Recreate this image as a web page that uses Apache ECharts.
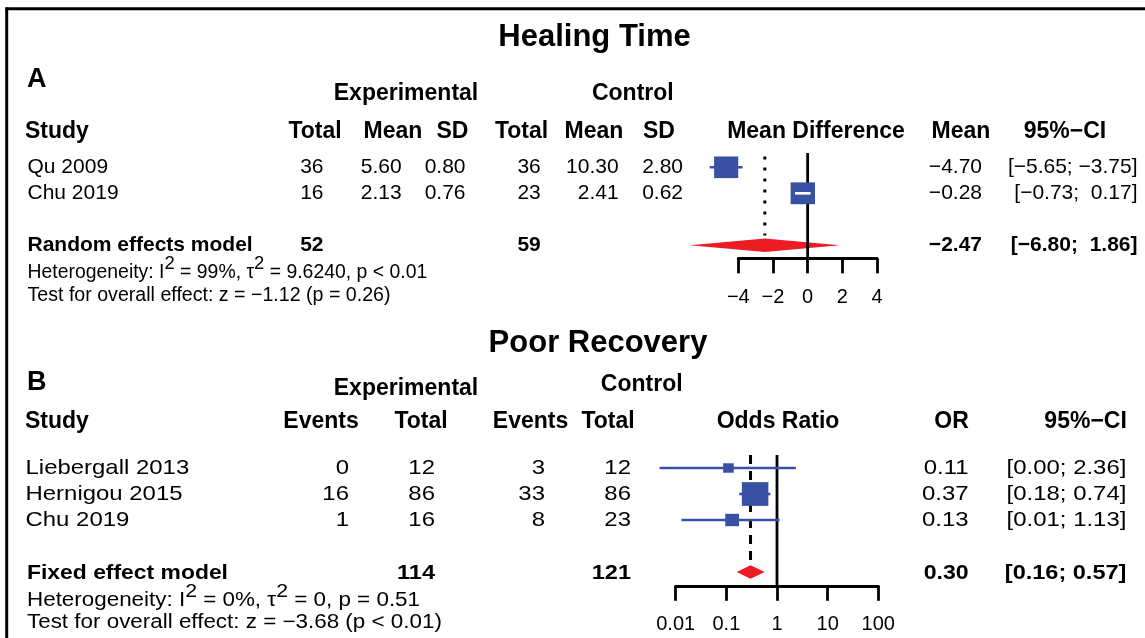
<!DOCTYPE html>
<html>
<head>
<meta charset="utf-8">
<title>Healing Time / Poor Recovery</title>
<script src="https://cdn.jsdelivr.net/npm/echarts@6/dist/echarts.min.js"></script>
<style>
  html, body { margin: 0; padding: 0; background: #fff; }
  #chart { width: 1145px; height: 638px; }
</style>
</head>
<body>
<div id="chart"></div>
<script>
// panel A - healing time (mean difference, random effects)
const studiesA = ['Qu 2009', 'Chu 2019'];
const expTotalA = [36, 16];
const expMeanA = [5.60, 2.13];
const expSdA = [0.80, 0.76];
const ctrlTotalA = [36, 23];
const ctrlMeanA = [10.30, 2.41];
const ctrlSdA = [2.80, 0.62];
const mdA = [-4.70, -0.28];
const mdLoA = [-5.65, -0.73];
const mdHiA = [-3.75, 0.17];
const weightA = [49.5, 50.5];
const pooledA = [-2.47, -6.80, 1.86]; // est, lo, hi
const totalsA = [52, 59];
const ticksA = [-4, -2, 0, 2, 4];

// panel B - poor recovery (odds ratio, fixed effect)
const studiesB = ['Liebergall 2013', 'Hernigou 2015', 'Chu 2019'];
const expEventsB = [0, 16, 1];
const expTotalB = [12, 86, 16];
const ctrlEventsB = [3, 33, 8];
const ctrlTotalB = [12, 86, 23];
const orB = [0.11, 0.37, 0.13];
const orLoB = [0.0048, 0.18, 0.013];
const orHiB = [2.36, 0.74, 1.13];
const weightB = [11.2, 69.9, 18.9];
const pooledB = [0.30, 0.16, 0.57];
const totalsB = [114, 121];

const BLUE = '#3a51a3';
const RED = '#ed1c24';
const FONT = '"Liberation Sans", Arial, Helvetica, sans-serif';
const MINUS = '\u2212';

function fmt(v, d) {
  return (v < 0 ? MINUS : '') + Math.abs(v).toFixed(d);
}
// R pads the CI bounds to a common width when some are negative
function ci(lo, hi, w) {
  return '[' + fmt(lo, 2).padStart(w, ' ') + '; ' + fmt(hi, 2).padStart(w, ' ') + ']';
}
function ciWidth(arrs) {
  let w = 0;
  arrs.forEach(function (a) { a.forEach(function (v) { w = Math.max(w, fmt(v, 2).length); }); });
  return w;
}
const wA = ciWidth([mdLoA, mdHiA, [pooledA[1], pooledA[2]]]);
const wB = ciWidth([orLoB, orHiB, [pooledB[1], pooledB[2]]]);

const g = [];
function txt(x, y, text, opt) {
  opt = opt || {};
  g.push({
    type: 'text', x: x, y: y, silent: true, scaleX: opt.sx || 1,
    style: {
      text: text, fill: '#000', fontFamily: FONT,
      fontSize: opt.size || 20, fontWeight: opt.bold ? 'bold' : 'normal',
      align: opt.align || 'left', verticalAlign: 'middle',
      rich: opt.rich
    }
  });
}
const supRich = { s: { fontSize: 19, fontFamily: FONT, padding: [0, 0, 16, 0] } };

// frame
g.push({ type: 'line', shape: { x1: 5.5, y1: 8.7, x2: 1145, y2: 8.7 }, style: { stroke: '#000', lineWidth: 3 } });
g.push({ type: 'line', shape: { x1: 6.7, y1: 7.5, x2: 6.7, y2: 638 }, style: { stroke: '#000', lineWidth: 3 } });

// ---- panel A text
txt(594.5, 37.5, 'Healing Time', { size: 31, bold: true, align: 'center' });
txt(27, 80, 'A', { size: 27, bold: true });
txt(406, 93.3, 'Experimental', { size: 23, bold: true, align: 'center' });
txt(632.8, 93.3, 'Control', { size: 23, bold: true, align: 'center' });
txt(25, 132, 'Study', { size: 23, bold: true });
[['Total', 315], ['Mean', 393], ['SD', 452.5], ['Total', 521.5], ['Mean', 594], ['SD', 659],
 ['Mean Difference', 816], ['Mean', 961], ['95%\u2212CI', 1065]].forEach(function (h) {
  txt(h[1], 132, h[0], { size: 23, bold: true, align: 'center' });
});
const rowYA = [167.3, 193.3];
studiesA.forEach(function (s, i) {
  const y = rowYA[i];
  txt(27.5, y, s, { size: 21 });
  txt(323.5, y, String(expTotalA[i]), { size: 21, align: 'right' });
  txt(401.7, y, fmt(expMeanA[i], 2), { size: 21, align: 'right' });
  txt(465.5, y, fmt(expSdA[i], 2), { size: 21, align: 'right' });
  txt(540.8, y, String(ctrlTotalA[i]), { size: 21, align: 'right' });
  txt(618.6, y, fmt(ctrlMeanA[i], 2), { size: 21, align: 'right' });
  txt(683, y, fmt(ctrlSdA[i], 2), { size: 21, align: 'right' });
  txt(982, y, fmt(mdA[i], 2), { size: 21, align: 'right' });
  txt(1137.5, y, ci(mdLoA[i], mdHiA[i], wA), { size: 21, align: 'right' });
});
txt(27.5, 245.3, 'Random effects model', { size: 21, bold: true });
txt(323.5, 245.3, String(totalsA[0]), { size: 21, bold: true, align: 'right' });
txt(540.8, 245.3, String(totalsA[1]), { size: 21, bold: true, align: 'right' });
txt(982, 245.3, fmt(pooledA[0], 2), { size: 21, bold: true, align: 'right' });
txt(1137.5, 245.3, ci(pooledA[1], pooledA[2], wA), { size: 21, bold: true, align: 'right' });
txt(27.5, 272, 'Heterogeneity: I{s|2} = 99%, \u03c4{s|2} = 9.6240, p < 0.01', { size: 20, rich: supRich, sx: 0.97 });
txt(27.5, 295.5, 'Test for overall effect: z = ' + MINUS + '1.12 (p = 0.26)', { size: 20, sx: 0.98 });

// ---- panel B text (rows in this panel are set a little wider)
const SXB = 1.14;
txt(598, 343, 'Poor Recovery', { size: 31, bold: true, align: 'center' });
txt(27, 383, 'B', { size: 27, bold: true });
txt(406, 389, 'Experimental', { size: 23, bold: true, align: 'center' });
txt(641.7, 385, 'Control', { size: 23, bold: true, align: 'center' });
txt(25, 421.7, 'Study', { size: 23, bold: true });
[['Events', 321], ['Total', 421], ['Events', 530.5], ['Total', 608], ['Odds Ratio', 778],
 ['OR', 951.6], ['95%\u2212CI', 1085.6]].forEach(function (h) {
  txt(h[1], 421.7, h[0], { size: 23, bold: true, align: 'center' });
});
const rowYB = [468.3, 494.5, 520.7];
studiesB.forEach(function (s, i) {
  const y = rowYB[i];
  txt(25.5, y, s, { size: 21, sx: SXB });
  txt(349, y, String(expEventsB[i]), { size: 21, align: 'right', sx: SXB });
  txt(435, y, String(expTotalB[i]), { size: 21, align: 'right', sx: SXB });
  txt(545, y, String(ctrlEventsB[i]), { size: 21, align: 'right', sx: SXB });
  txt(631, y, String(ctrlTotalB[i]), { size: 21, align: 'right', sx: SXB });
  txt(968.6, y, fmt(orB[i], 2), { size: 21, align: 'right', sx: SXB });
  txt(1126.4, y, ci(orLoB[i], orHiB[i], wB), { size: 21, align: 'right', sx: SXB });
});
txt(27, 573.3, 'Fixed effect model', { size: 21, bold: true, sx: 1.09 });
txt(435, 573.3, String(totalsB[0]), { size: 21, bold: true, align: 'right', sx: 1.12 });
txt(631, 573.3, String(totalsB[1]), { size: 21, bold: true, align: 'right', sx: 1.12 });
txt(968.6, 573.3, fmt(pooledB[0], 2), { size: 21, bold: true, align: 'right', sx: 1.1 });
txt(1126.4, 573.3, ci(pooledB[1], pooledB[2], wB), { size: 21, bold: true, align: 'right', sx: 1.12 });
txt(27, 600, 'Heterogeneity: I{s|2} = 0%, \u03c4{s|2} = 0, p = 0.51', { size: 20, rich: supRich, sx: 1.12 });
txt(27, 622.5, 'Test for overall effect: z = ' + MINUS + '3.68 (p < 0.01)', { size: 20, sx: 1.12 });

// ---- marks
function studyItem(boxMax, wMax) {
  return function (params, api) {
    const row = api.value(3);
    const c = api.coord([api.value(0), row]);
    const l = api.coord([api.value(1), row]);
    const h = api.coord([api.value(2), row]);
    const s = boxMax * Math.sqrt(api.value(4) / wMax);
    const bw = s * 1.06, bh = s * 0.95;
    const inside = l[0] >= c[0] - bw / 2 && h[0] <= c[0] + bw / 2;
    const line = { type: 'line', shape: { x1: l[0], y1: c[1], x2: h[0], y2: c[1] },
      style: { stroke: inside ? '#fff' : BLUE, lineWidth: 2.6 } };
    const rect = { type: 'rect', shape: { x: c[0] - bw / 2, y: c[1] - bh / 2, width: bw, height: bh },
      style: { fill: BLUE } };
    return { type: 'group', children: inside ? [rect, line] : [line, rect] };
  };
}
function diamondItem(params, api) {
  const row = api.value(3);
  const c = api.coord([api.value(0), row]);
  const l = api.coord([api.value(1), row]);
  const h = api.coord([api.value(2), row]);
  return { type: 'polygon', shape: { points: [[l[0], c[1]], [c[0], c[1] - 6.8], [h[0], c[1]], [c[0], c[1] + 6.8]] },
    style: { fill: RED } };
}
function refItem(params, api) {
  const a = api.coord([api.value(0), api.value(1)]);
  const b = api.coord([api.value(0), api.value(2)]);
  const kind = api.value(3);
  const dash = kind === 1 ? [3, 8] : kind === 2 ? [9, 7] : null;
  return { type: 'line', shape: { x1: a[0], y1: a[1], x2: b[0], y2: b[1] },
    style: { stroke: '#000', lineWidth: kind === 0 ? 2.8 : 3, lineDash: dash } };
}

const dataA = mdA.map(function (v, i) { return [v, mdLoA[i], mdHiA[i], i, weightA[i]]; });
const dataB = orB.map(function (v, i) { return [v, orLoB[i], orHiB[i], i, weightB[i]]; });

function axisX(idx, extra) {
  return Object.assign({
    gridIndex: idx,
    axisLine: { show: true, onZero: false, lineStyle: { color: '#000', width: 2.8 } },
    axisTick: { show: true, inside: false, length: 15, lineStyle: { color: '#000', width: 2.8 } },
    splitLine: { show: false }
  }, extra);
}

const option = {
  animation: false,
  backgroundColor: '#fff',
  grid: [
    { left: 738.3, right: 268, top: 153, height: 105.3, outerBoundsMode: 'none', containLabel: false },
    { left: 675.7, right: 266.7, top: 455, height: 130.8, outerBoundsMode: 'none', containLabel: false }
  ],
  xAxis: [
    axisX(0, { type: 'value', min: ticksA[0], max: ticksA[ticksA.length - 1], interval: 2,
      axisLabel: { color: '#000', fontSize: 20, fontFamily: FONT, margin: 29,
        formatter: function (v) { return fmt(v, 0); } } }),
    axisX(1, { type: 'log', logBase: 10, min: 0.01, max: 100,
      axisLabel: { color: '#000', fontSize: 20, fontFamily: FONT, margin: 29,
        formatter: function (v) { return String(+Number(v).toPrecision(2)); } } })
  ],
  yAxis: [
    { gridIndex: 0, type: 'value', inverse: true, min: -0.55, max: 3.5, show: false },
    { gridIndex: 1, type: 'value', inverse: true, min: -0.5, max: 4.53, show: false }
  ],
  series: [
    { type: 'custom', name: 'pooled A', xAxisIndex: 0, yAxisIndex: 0, z: 1, clip: false,
      renderItem: diamondItem, data: [[pooledA[0], pooledA[1], pooledA[2], 3]] },
    { type: 'custom', name: 'ref A', xAxisIndex: 0, yAxisIndex: 0, z: 2, clip: false,
      renderItem: refItem, data: [[0, -0.55, 3.5, 0], [pooledA[0], -0.42, 2.62, 1]] },
    { type: 'custom', name: 'studies A', xAxisIndex: 0, yAxisIndex: 0, z: 3, clip: false,
      renderItem: studyItem(23, Math.max.apply(null, weightA)), data: dataA },
    { type: 'custom', name: 'pooled B', xAxisIndex: 1, yAxisIndex: 1, z: 1, clip: false,
      renderItem: diamondItem, data: [[pooledB[0], pooledB[1], pooledB[2], 4]] },
    { type: 'custom', name: 'ref B', xAxisIndex: 1, yAxisIndex: 1, z: 2, clip: false,
      renderItem: refItem, data: [[1, -0.5, 4.53, 0], [pooledB[0], -0.5, 3.6, 2]] },
    { type: 'custom', name: 'studies B', xAxisIndex: 1, yAxisIndex: 1, z: 3, clip: false,
      renderItem: studyItem(25, Math.max.apply(null, weightB)), data: dataB }
  ],
  graphic: g
};

const chart = echarts.init(document.getElementById('chart'));
chart.setOption(option);
window.addEventListener('resize', chart.resize);
</script>
</body>
</html>
